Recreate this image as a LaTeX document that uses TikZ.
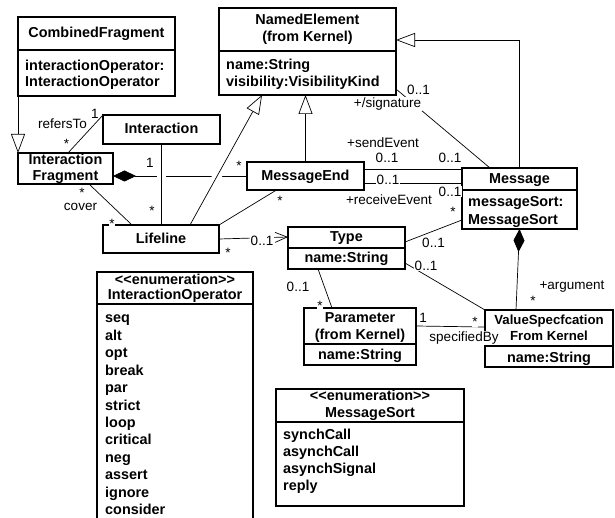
\documentclass[tikz,border=0pt]{standalone}
\usepackage{fontspec}
\setmainfont{Liberation Sans}
\usetikzlibrary{arrows.meta}
\begin{document}
\begin{tikzpicture}[x=1pt,y=-1pt,
  cls/.style={draw, line width=1.1pt, inner sep=0pt, outer sep=0pt, anchor=north west},
  sep/.style={line width=1.1pt},
  bt/.style={font=\bfseries\fontsize{14.4pt}{17pt}\selectfont, inner sep=0pt},
  bts/.style={font=\bfseries\fontsize{13.2pt}{16pt}\selectfont, inner sep=0pt},
  lb/.style={font=\fontsize{13.5pt}{16pt}\selectfont, fill=white, inner sep=0.6pt},
  conn/.style={line width=0.7pt},
  gen/.style={conn, -{Triangle[open,fill=white,length=19pt,width=14pt]}},
  comp/.style={conn, {Diamond[length=23pt,width=11pt]}-},
  nav/.style={conn, -{Straight Barb[length=12pt,width=10pt]}},
  eraser/.style={draw=white, line width=9pt, shorten <=5pt, shorten >=5pt}
]
\path[use as bounding box] (0,0) rectangle (615,518);
\clip (0,0) rectangle (615,518);

% ---------- classes ----------
\node[cls, minimum width=157pt, minimum height=79pt] (cf) at (18,17) {};
\draw[sep] (18,50) -- (175,50);
\node[bt, anchor=base] (cft) at (96.5,38) {CombinedFragment};
\node[bt, anchor=base west] (cfa1) at (25,71) {interactionOperator:};
\node[bt, anchor=base west] (cfa2) at (25,87) {InteractionOperator};

\node[cls, minimum width=95pt, minimum height=31pt] (if) at (18,153) {};
\node[bt, anchor=base] (ift1) at (65.5,165) {Interaction};
\node[bt, anchor=base] (ift2) at (65.5,181) {Fragment};

\node[cls, minimum width=117pt, minimum height=29pt] (inter) at (103,115) {};
\node[bt, anchor=base] (intert) at (161.5,134) {Interaction};

\node[cls, minimum width=177pt, minimum height=87pt] (ne) at (219,8) {};
\draw[sep] (219,51) -- (396,51);
\node[bt, anchor=base] (net1) at (307.5,25) {NamedElement};
\node[bt, anchor=base] (net2) at (307.5,42) {(from Kernel)};
\node[bt, anchor=base west] (nea1) at (226,70) {name:String};
\node[bt, anchor=base west] (nea2) at (226,87) {visibility:VisibilityKind};

\node[cls, minimum width=117pt, minimum height=28pt] (me) at (247,162) {};
\node[bt, anchor=base] (met) at (305.5,181) {MessageEnd};

\node[cls, minimum width=115pt, minimum height=61pt] (msg) at (462,168) {};
\draw[sep] (462,190) -- (577,190);
\node[bt, anchor=base] (msgt) at (519.5,184) {Message};
\node[bt, anchor=base west] (msga1) at (468,207) {messageSort:};
\node[bt, anchor=base west] (msga2) at (468,225) {MessageSort};

\node[cls, minimum width=116pt, minimum height=28pt] (ll) at (103,225) {};
\node[bt, anchor=base] (llt) at (161,244) {Lifeline};

\node[cls, minimum width=117pt, minimum height=42pt] (type) at (288,227) {};
\draw[sep] (288,248) -- (405,248);
\node[bt, anchor=base] (typet) at (346.5,242) {Type};
\node[bt, anchor=base] (typea) at (346.5,263) {name:String};

\node[cls, minimum width=112pt, minimum height=57pt] (param) at (304,308) {};
\draw[sep] (304,344) -- (416,344);
\node[bt, anchor=base] (paramt1) at (360,322) {Parameter};
\node[bt, anchor=base] (paramt2) at (360,339) {(from Kernel)};
\node[bt, anchor=base] (parama) at (360,359) {name:String};

\node[cls, minimum width=128pt, minimum height=57pt] (vs) at (485,310) {};
\draw[sep] (485,346) -- (613,346);
\node[bts, anchor=base] (vst1) at (549,324) {ValueSpecfcation};
\node[bts, anchor=base] (vst2) at (549,340) {From Kernel};
\node[bt, anchor=base] (vsa) at (549,362) {name:String};

\node[cls, minimum width=156pt, minimum height=260pt] (io) at (97,272) {};
\draw[sep] (97,304) -- (253,304);
\node[bt, anchor=base] (iot1) at (175,285) {<{}<enumeration>{}>};
\node[bt, anchor=base] (iot2) at (175,300) {InteractionOperator};
\foreach \t [count=\i from 0] in {seq,alt,opt,break,par,strict,loop,critical,neg,assert,ignore,consider}
  \node[bt, anchor=base west] (io\i) at (105,323+17.4*\i) {\t};

\node[cls, minimum width=188pt, minimum height=117pt] (ms) at (276,389) {};
\draw[sep] (276,422) -- (464,422);
\node[bt, anchor=base] (mst1) at (370,400) {<{}<enumeration>{}>};
\node[bt, anchor=base] (mst2) at (370,417) {MessageSort};
\foreach \t [count=\i from 0] in {synchCall,asynchCall,asynchSignal,reply}
  \node[bt, anchor=base west] (ms\i) at (283,439+17*\i) {\t};

% ---------- connectors ----------
\draw[gen] (cf.south west) -- (if.north west);
\draw[conn] (inter.north west) -- ([xshift=2.5pt]if.north);
\draw[comp] (if.east |- me.west) -- (me.west);

\path[eraser] (inter.south) -- (inter.south |- ll.north);
\path[eraser] ([xshift=29pt]ll.north) -- ([xshift=43pt]ne.south west);
\draw[conn] (inter.south) -- (inter.south |- ll.north);
\draw[gen] ([xshift=29pt]ll.north) -- ([xshift=43pt]ne.south west);

\draw[conn] ([xshift=23.5pt]if.south) -- ([xshift=-29pt]ll.north);
\draw[gen] (me.north) -- (me.north |- ne.south);
\draw[conn] ([xshift=-29pt]me.south) -- (ll.north east);
\draw[nav] (ll.east) -- ([yshift=-10pt]type.north west);
\draw[conn] ([yshift=-7pt]me.north east) -- ([yshift=-1pt]msg.north west);
\draw[conn] ([yshift=7pt]me.south east) -- ([yshift=-15pt]msg.north west);
\draw[conn] ([yshift=6pt]ne.south east) -- ([xshift=-29.5pt]msg.north);
\draw[gen] (msg.north) |- ([yshift=-32pt]ne.north east);
\draw[conn] ([yshift=-15pt]type.north east) -- ([yshift=9pt]msg.south west);
\draw[conn] ([yshift=6pt]type.south east) -- (vs.north west);
\draw[conn] ([xshift=-28.5pt]type.south) -- ([xshift=-28pt]param.north);
\draw[conn] ([yshift=-18pt]param.north east) -- ([yshift=-17pt]vs.north west);
\draw[comp] (msg.south) -- ([xshift=31pt]vs.north west);

% ---------- labels ----------
\node[lb] (l1) at (95,114) {1};
\node[lb] (l2) at (62.5,123.5) {refersTo};
\node[lb] (l3) at (66.5,143.5) {*};
\node[lb] (l4) at (150,163) {1};
\node[lb] (l5) at (239,166) {*};
\node[lb] (l6) at (152,211) {*};
\node[lb, inner sep=0pt] (l7) at (82,192.5) {*};
\node[lb] (l8) at (80.5,207) {cover};
\node[lb] (l9) at (112,224) {*};
\node[lb] (l10) at (280,201) {*};
\node[lb] (l11) at (262,241) {0..1};
\node[lb] (l12) at (228,253) {*};
\node[lb] (l13) at (383,143) {+sendEvent};
\node[lb] (l14) at (387,158) {0..1};
\node[lb] (l15) at (450,158) {0..1};
\node[lb] (l16) at (388,179.5) {0..1};
\node[lb] (l17) at (389,200) {+receiveEvent};
\node[lb] (l18) at (450,191.5) {0..1};
\node[lb] (l19) at (433.5,243) {0..1};
\node[lb] (l20) at (453,212) {*};
\node[lb] (l21) at (426,266) {0..1};
\node[lb] (l22) at (298,287) {0..1};
\node[lb] (l23) at (320,306) {*};
\node[lb] (l24) at (423,318) {1};
\node[lb] (l25) at (475,322) {*};
\node[lb] (l26) at (464,338) {specifiedBy};
\node[lb] (l27) at (572,287) {+argument};
\node[lb] (l28) at (533,301) {*};
\node[lb] (l29) at (418.5,90) {0..1};
\node[lb] (l30) at (387.5,104) {+/signature};
\end{tikzpicture}
\end{document}
